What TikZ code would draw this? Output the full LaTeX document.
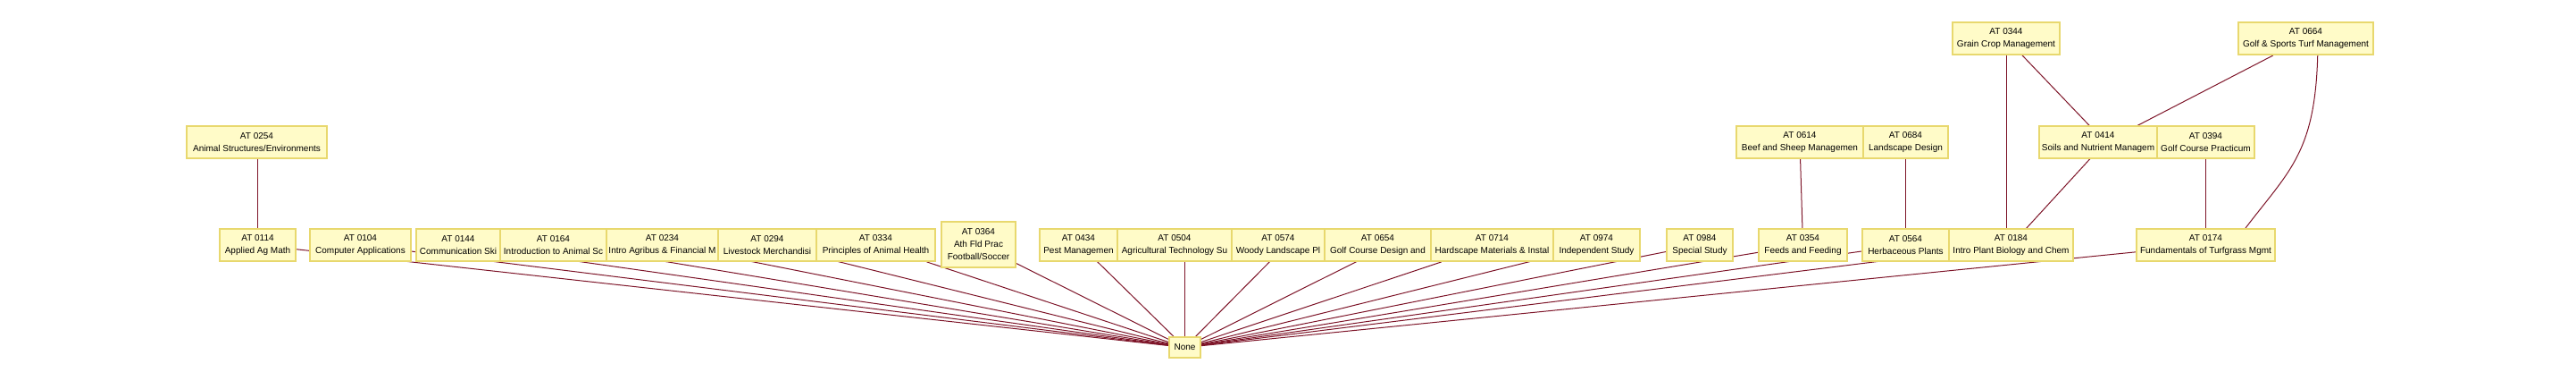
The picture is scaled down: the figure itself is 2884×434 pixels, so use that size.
\documentclass[tikz,border=0pt]{standalone}
\usepackage{fontspec}
\setmainfont{Liberation Sans}
\usetikzlibrary{backgrounds}
\definecolor{edgecol}{RGB}{125,20,40}
\definecolor{boxfill}{RGB}{255,251,200}
\definecolor{boxline}{RGB}{232,216,110}
\tikzset{
  course/.style={draw=boxline, fill=boxfill, line width=1.8pt, inner sep=0pt,
    align=center, font=\fontsize{10}{14}\selectfont, minimum height=36pt},
  link/.style={draw=edgecol, line width=1pt}
}
\begin{document}
\begin{tikzpicture}[x=1pt,y=-1pt]
\useasboundingbox (0,0) rectangle (2884,434);
% top row
\node[course, minimum width=120pt] (n0344) at (2246,43) {AT 0344\\Grain Crop Management};
\node[course, minimum width=151pt] (n0664) at (2581.5,43) {AT 0664\\Golf \& Sports Turf Management};
% middle row
\node[course, minimum width=157pt] (n0254) at (287.5,159) {AT 0254\\Animal Structures/Environments};
\node[course, minimum width=142pt] (n0614) at (2015,159) {AT 0614\\Beef and Sheep Managemen};
\node[course, minimum width=95pt] (n0684) at (2133.5,159) {AT 0684\\Landscape Design};
\node[course, minimum width=132pt] (n0414) at (2349,159) {AT 0414\\Soils and Nutrient Managem};
\node[course, minimum width=109pt] (n0394) at (2469.5,159) {AT 0394\\Golf Course Practicum};
% bottom row
\node[course, minimum width=85pt] (n0114) at (288.5,274) {AT 0114\\Applied Ag Math};
\node[course, minimum width=113pt] (n0104) at (403.5,274) {AT 0104\\Computer Applications};
\node[course, minimum width=94pt] (n0144) at (513,274) {AT 0144\\Communication Ski};
\node[course, minimum width=119pt] (n0164) at (619.5,274) {AT 0164\\Introduction to Animal Sc};
\node[course, minimum width=125pt] (n0234) at (741.5,274) {AT 0234\\Intro Agribus \& Financial M};
\node[course, minimum width=110pt] (n0294) at (859,274) {AT 0294\\Livestock Merchandisi};
\node[course, minimum width=133pt] (n0334) at (980.5,274) {AT 0334\\Principles of Animal Health};
\node[course, minimum width=83pt, minimum height=51pt] (n0364) at (1095.5,273.5) {AT 0364\\Ath Fld Prac\\Football/Soccer};
\node[course, minimum width=87pt] (n0434) at (1207.5,274) {AT 0434\\Pest Managemen};
\node[course, minimum width=128pt] (n0504) at (1315,274) {AT 0504\\Agricultural Technology Su};
\node[course, minimum width=104pt] (n0574) at (1431,274) {AT 0574\\Woody Landscape Pl};
\node[course, minimum width=119pt] (n0654) at (1542.5,274) {AT 0654\\Golf Course Design and};
\node[course, minimum width=137pt] (n0714) at (1670.5,274) {AT 0714\\Hardscape Materials \& Instal};
\node[course, minimum width=97pt] (n0974) at (1787.5,274) {AT 0974\\Independent Study};
\node[course, minimum width=74pt] (n0984) at (1903,274) {AT 0984\\Special Study};
\node[course, minimum width=99pt] (n0354) at (2018.5,274) {AT 0354\\Feeds and Feeding};
\node[course, minimum width=97pt] (n0564) at (2133.5,274) {AT 0564\\Herbaceous Plants};
\node[course, minimum width=139pt] (n0184) at (2251.5,274) {AT 0184\\Intro Plant Biology and Chem};
\node[course, minimum width=155pt] (n0174) at (2469.5,274) {AT 0174\\Fundamentals of Turfgrass Mgmt};
% sink
\node[course, minimum width=35pt, minimum height=23pt] (none) at (1326.5,388.5) {None};
\begin{pgfonlayer}{background}
\draw[link] (n0114) -- (none);
\draw[link] (n0104) -- (none);
\draw[link] ([xshift=5pt]n0144.center) -- (none);
\draw[link] ([xshift=13.5pt]n0164.center) -- (none);
\draw[link] ([xshift=6.5pt]n0234.center) -- (none);
\draw[link] ([xshift=4.5pt]n0294.center) -- (none);
\draw[link] (n0334) -- (none);
\draw[link] (n0364) -- (none);
\draw[link] ([xshift=2pt]n0434.center) -- (none);
\draw[link] ([xshift=11.5pt]n0504.center) -- (none);
\draw[link] ([xshift=9pt]n0574.center) -- (none);
\draw[link] ([xshift=13.5pt]n0654.center) -- (none);
\draw[link] (n0714) -- (none);
\draw[link] (n0974) -- (none);
\draw[link] (n0984) -- (none);
\draw[link] (n0354) -- (none);
\draw[link] (n0564) -- (none);
\draw[link] (n0184) -- (none);
\draw[link] (n0174) -- (none);
\draw[link] ([xshift=1pt]n0254.center) -- (n0114);
\draw[link] (n0614) -- (n0354);
\draw[link] (n0684) -- (n0564);
\draw[link] ([xshift=0.5pt]n0344.center) -- ([xshift=0.5pt]n0344.center |- n0184.center);
\draw[link] (n0344) -- ([xshift=8pt]n0414.center);
\draw[link] ([xshift=8pt]n0414.center) -- (n0184);
\draw[link] (n0664) -- ([xshift=8pt]n0414.center);
\draw[link] (n0394) -- (n0174);
\draw[link] ([xshift=13.5pt]n0664.center) .. controls (2595,180) and (2560,190) .. ([xshift=30.5pt]n0174.center);
\end{pgfonlayer}
\end{tikzpicture}
\end{document}
